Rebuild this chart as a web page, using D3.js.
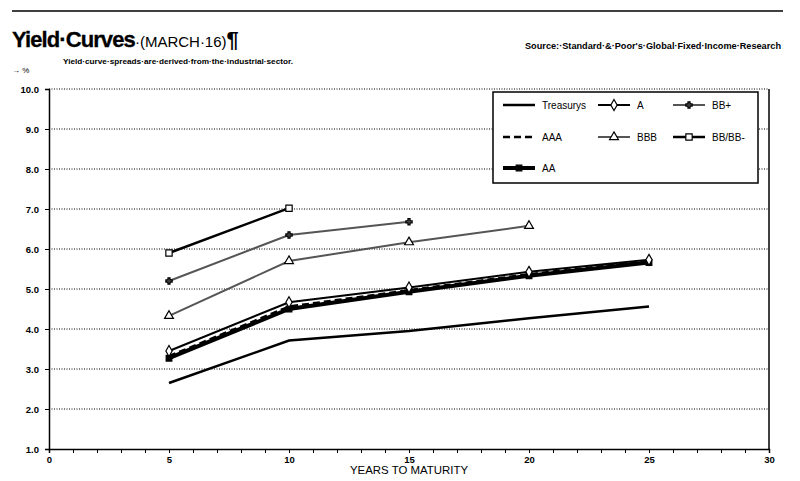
<!DOCTYPE html>
<html>
<head>
<meta charset="utf-8">
<script src="https://cdn.jsdelivr.net/npm/d3@7"></script>
<style>
  body { margin: 0; background: #fff; }
  svg { display: block; }
  text { font-family: "Liberation Sans Narrow", "Arial Narrow", "Liberation Sans", sans-serif; }
</style>
</head>
<body>
<div id="chart"></div>
<script>
// Yield by maturity (years) for each rating
const years = [5, 10, 15, 20, 25];
const treasurys = [2.65, 3.71, 3.95, 4.27, 4.56];
const ratingA = [3.45, 4.67, 5.04, 5.43, 5.73];
const ratingAAA = [3.32, 4.56, 4.97, 5.37, 5.70];
const ratingAA = [3.27, 4.50, 4.93, 5.33, 5.66];
const ratingBBB = [4.33, 5.70, 6.17, 6.58];
const ratingBBplus = [5.20, 6.35, 6.68];
const ratingBBminus = [5.90, 7.02];

const yTicks = [1, 2, 3, 4, 5, 6, 7, 8, 9, 10];
const xTicks = [0, 5, 10, 15, 20, 25, 30];

const width = 800;
const height = 481;
const margin = { left: 49, right: 31, top: 89, bottom: 32 };

const svg = d3
  .select("#chart")
  .append("svg")
  .attr("width", width)
  .attr("height", height);

const x = d3.scaleLinear().domain([0, 30]).range([margin.left, width - margin.right]);
const y = d3.scaleLinear().domain([1, 10]).range([height - margin.bottom, margin.top]);

// Header
svg
  .append("line")
  .attr("x1", 12)
  .attr("x2", 783)
  .attr("y1", 11)
  .attr("y2", 11)
  .style("stroke", "#000")
  .style("stroke-width", 1.5);

// one text element, title squeezed a little with letter-spacing
const title = svg.append("text").attr("x", 12).attr("y", 47);
title
  .append("tspan")
  .text("Yield·Curves")
  .style("font-size", "22px")
  .style("font-weight", "bold")
  .style("letter-spacing", "-0.9px")
  .style("stroke", "#000")
  .style("stroke-width", 0.3);
title.append("tspan").text("·(MARCH·16)").style("font-size", "15px");
title
  .append("tspan")
  .text("¶")
  .style("font-size", "22px")
  .style("font-weight", "bold");

// squeeze text to the condensed widths of the original
const fitText = (str, tx, ty, len, size, weight) =>
  svg
    .append("text")
    .attr("x", tx)
    .attr("y", ty)
    .attr("textLength", len)
    .attr("lengthAdjust", "spacingAndGlyphs")
    .style("font-size", `${size}px`)
    .style("font-weight", weight)
    .text(str);

fitText("Yield·curve·spreads·are·derived·from·the·industrial·sector.", 63, 64, 230, 8, "bold");
fitText("Source:·Standard·&·Poor's·Global·Fixed·Income·Research", 525, 49, 256, 8.5, "bold");

svg
  .append("text")
  .attr("x", 12)
  .attr("y", 73)
  .style("font-size", "8px")
  .text("→  %");

// Gridlines
svg
  .append("g")
  .selectAll("line")
  .data(yTicks.slice(1))
  .join("line")
  .attr("x1", x(0))
  .attr("x2", x(30))
  .attr("y1", (d) => y(d))
  .attr("y2", (d) => y(d))
  .style("stroke", "#000")
  .style("stroke-width", 1)
  .style("stroke-dasharray", "1,1.5");

// Axes
const yAxis = d3
  .axisLeft(y)
  .tickValues(yTicks)
  .tickSize(4)
  .tickPadding(6)
  .tickFormat(d3.format(".1f"));

svg
  .append("g")
  .attr("transform", `translate(${x(0)},0)`)
  .call(yAxis)
  .call((g) => g.selectAll("text").style("font-size", "9.5px").style("font-weight", "bold"));

const xAxis = d3
  .axisBottom(x)
  .tickValues(d3.range(0, 31))
  .tickSize(4)
  .tickPadding(3)
  .tickFormat((d) => (xTicks.includes(d) ? d : ""));

svg
  .append("g")
  .attr("transform", `translate(0,${y(1)})`)
  .call(xAxis)
  .call((g) => g.selectAll("text").style("font-size", "9.5px").style("font-weight", "bold"));

svg
  .append("line")
  .attr("x1", x(30))
  .attr("x2", x(30))
  .attr("y1", y(10))
  .attr("y2", y(1))
  .style("stroke", "#000")
  .style("stroke-width", 1.5);

svg.selectAll(".domain").style("stroke", "#000").style("stroke-width", 1.5);

svg
  .append("text")
  .attr("x", (x(0) + x(30)) / 2)
  .attr("y", 474)
  .attr("text-anchor", "middle")
  .attr("textLength", 118)
  .attr("lengthAdjust", "spacingAndGlyphs")
  .style("font-size", "11px")
  .text("YEARS TO MATURITY");

// Series
const series = [
  { name: "Treasurys", values: treasurys, color: "#000", width: 2.5, dash: null, symbol: null },
  { name: "BBB", values: ratingBBB, color: "#555", width: 2, dash: null, symbol: d3.symbolTriangle, fill: "#fff", size: 34 },
  { name: "BB+", values: ratingBBplus, color: "#555", width: 2, dash: null, symbol: d3.symbolCross, fill: "#555", size: 22 },
  { name: "BB/BB-", values: ratingBBminus, color: "#000", width: 2.5, dash: null, symbol: d3.symbolSquare, fill: "#fff", size: 40 },
  { name: "AA", values: ratingAA, color: "#000", width: 4, dash: null, symbol: d3.symbolSquare, fill: "#000", size: 32 },
  { name: "AAA", values: ratingAAA, color: "#000", width: 2.5, dash: "7,4", symbol: null },
  { name: "A", values: ratingA, color: "#000", width: 2, dash: null, symbol: d3.symbolDiamond, fill: "#fff", size: 34 },
];

const line = d3
  .line()
  .x((d) => x(d[0]))
  .y((d) => y(d[1]));

series.forEach((s) => {
  const pts = s.values.map((v, i) => [years[i], v]);
  svg
    .append("path")
    .datum(pts)
    .attr("d", line)
    .style("fill", "none")
    .style("stroke", s.color)
    .style("stroke-width", s.width)
    .style("stroke-dasharray", s.dash);

  if (s.symbol) {
    svg
      .append("g")
      .selectAll("path")
      .data(pts)
      .join("path")
      .attr("transform", (d) => `translate(${x(d[0])},${y(d[1])})`)
      .attr("d", d3.symbol(s.symbol, s.size))
      .style("fill", s.fill)
      .style("stroke", "#000")
      .style("stroke-width", 1.2);
  }
});

// Legend
const legend = svg.append("g");
legend
  .append("rect")
  .attr("x", 493)
  .attr("y", 92)
  .attr("width", 265)
  .attr("height", 91)
  .style("fill", "#fff")
  .style("stroke", "#000")
  .style("stroke-width", 1.5);

const legendItems = [
  { name: "Treasurys", col: 0, row: 0 },
  { name: "A", col: 1, row: 0 },
  { name: "BB+", col: 2, row: 0 },
  { name: "AAA", col: 0, row: 1 },
  { name: "BBB", col: 1, row: 1 },
  { name: "BB/BB-", col: 2, row: 1 },
  { name: "AA", col: 0, row: 2 },
];
const colX = [503, 598, 673];
const rowY = [105, 137, 168];
const sampleLen = 32;

legendItems.forEach((item) => {
  const s = series.find((d) => d.name === item.name);
  const lx = colX[item.col];
  const ly = rowY[item.row];
  const g = legend.append("g");
  g.append("line")
    .attr("x1", lx)
    .attr("x2", lx + sampleLen)
    .attr("y1", ly)
    .attr("y2", ly)
    .style("stroke", s.color)
    .style("stroke-width", s.width)
    .style("stroke-dasharray", s.dash);
  if (s.symbol) {
    g.append("path")
      .attr("transform", `translate(${lx + sampleLen / 2},${ly})`)
      .attr("d", d3.symbol(s.symbol, s.size))
      .style("fill", s.fill)
      .style("stroke", "#000")
      .style("stroke-width", 1.2);
  }
  g.append("text")
    .attr("x", lx + sampleLen + 7)
    .attr("y", ly + 3.5)
    .style("font-size", "10px")
    .text(item.name);
});
</script>
</body>
</html>
